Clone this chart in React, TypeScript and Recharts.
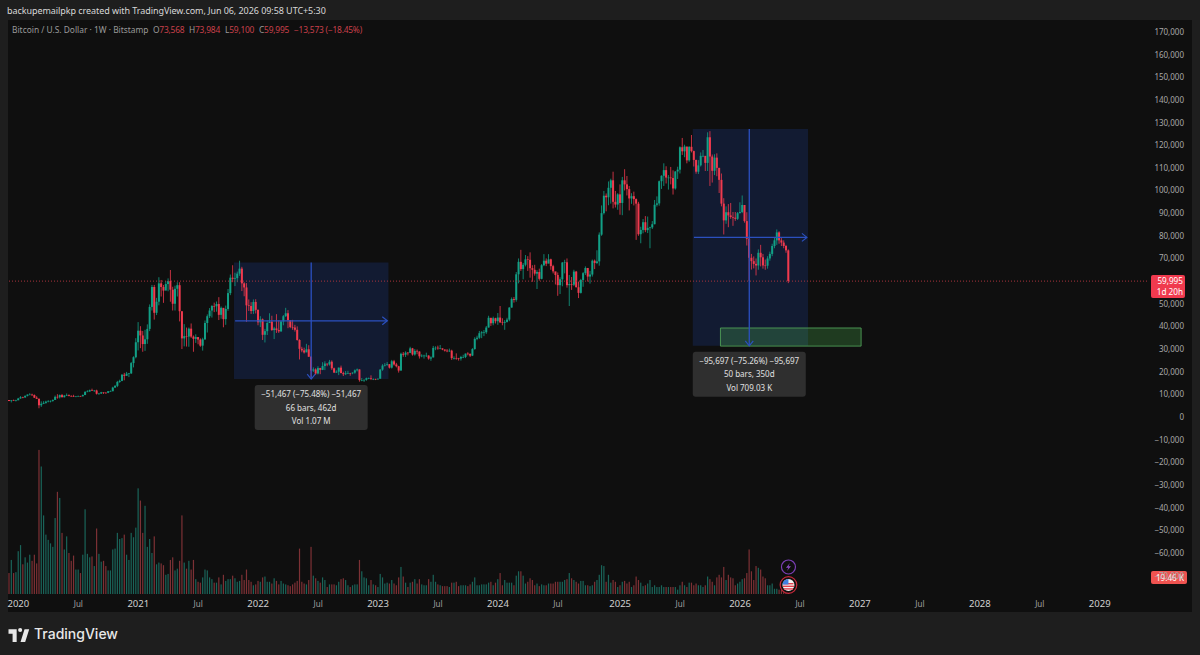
import React from 'react';
import { ComposedChart, Bar, XAxis, YAxis, ReferenceArea, ReferenceLine, ReferenceDot } from 'recharts';

// weekly bars, one line per 10 weeks. first bar is the week of 2019-12-09
const opens = [
  7510, 7060, 7330, 7250,
  7350, 8180, 8700, 8610, 9330, 9900, 9900, 9680, 8530, 8040,
  5180, 5820, 6240, 6770, 6860, 7120, 7540, 8900, 8720, 9680,
  8720, 9450, 9670, 9320, 9300, 9000, 9060, 9240, 9160, 9700,
  11050, 11270, 11840, 11650, 11710, 10250, 10350, 10920, 10730, 10670,
  11370, 11370, 13000, 13750, 15480, 15950, 18650, 18200, 19150, 19250,
  23800, 26400,
  33000, 38100, 36000, 32200, 34300, 38900, 48600, 57400, 46000, 50900,
  59000, 57400, 55800, 58700, 60000, 56200, 50000, 56600, 58200, 46700,
  34700, 35700, 35500, 39000, 35500, 34500, 35300, 34200, 31500, 34300,
  41500, 44500, 47000, 49000, 48900, 49900, 45100, 48200, 43200, 47700,
  54700, 61500, 61000, 61300, 63300, 65500, 59000, 57200, 49300, 49000,
  46800, 50800,
  47300, 41800, 43100, 36300, 37900, 41500, 42100, 38400, 39100, 38400,
  37800, 42200, 44500, 45800, 42800, 39700, 39500, 38500, 34000, 30100,
  29400, 28500, 29900, 26600, 20500, 21000, 19200, 21600, 20800, 22500,
  23600, 23200, 24400, 21500, 19600, 20000, 21800, 19400, 18900, 19300,
  19400, 19300, 19600, 20600, 21000, 16300, 16300, 16400, 17100, 17100,
  16800, 16800,
  16600, 16900, 20900, 22700, 23000, 23300, 21800, 24600, 23200, 22400,
  20500, 27900, 27500, 28400, 28300, 30300, 27600, 29200, 28900, 26800,
  27100, 27100, 27100, 25800, 26300, 30500, 30600, 30300, 30300, 29800,
  29300, 29000, 29300, 26000, 26000, 25900, 25800, 26500, 26500, 28000,
  27900, 27100, 30000, 34500, 35000, 37000, 37400, 37400, 39500, 43800,
  41400, 43600,
  42300, 43900, 41800, 41600, 42000, 43000, 48300, 52100, 51700, 63000,
  68500, 65300, 67200, 69600, 69400, 65700, 65000, 63300, 64000, 61000,
  67000, 69000, 67700, 69600, 66600, 64300, 62700, 58200, 60800, 68200,
  68300, 58200, 58700, 58400, 64200, 57300, 54800, 60500, 63500, 65800,
  62000, 62900, 69000, 68000, 68700, 80500, 90000, 97700, 97000, 101200,
  104500, 95000, 93800,
  98300, 94500, 104500, 102700, 100600, 96500, 97500, 96200, 94200, 80700,
  82600, 86000, 82500, 83500, 83700, 85100, 93700, 94300, 104100, 106500,
  109000, 105700, 105700, 105500, 100900, 108400, 109200, 119100, 117300, 119400,
  113300, 119300, 117400, 113500, 108300, 111100, 115300, 115300, 112200, 123500,
  115000, 108700, 114500, 110000, 104700, 94200, 86800, 90400, 89000, 88300,
  88000, 87500,
  90000, 90500, 93600, 86500, 78700, 70300, 68800, 67600, 66900, 72500,
  70500, 66900, 66800, 70000, 72000, 75500, 78000, 81500, 78000, 77000,
  75500, 73568,
];

const highs = [
  7440, 7500, 7680, 7620,
  8450, 9190, 8950, 9550, 9950, 10500, 10290, 9960, 9180, 8170,
  6900, 6990, 7190, 7470, 7290, 7730, 9480, 10070, 9950, 10170,
  9740, 10380, 10000, 9580, 9800, 9300, 9470, 9350, 9950, 11450,
  11800, 12100, 12500, 11800, 12050, 10650, 11100, 10900, 10950, 11500,
  11700, 13350, 14100, 15950, 16480, 18950, 19480, 19900, 19420, 24300,
  26800, 34800,
  41900, 40100, 38000, 38500, 40900, 49700, 58300, 58300, 52600, 61700,
  60500, 58300, 60000, 61200, 64900, 57500, 58000, 59500, 59500, 46600,
  41000, 39500, 39500, 41300, 36000, 36500, 35100, 34700, 35000, 42600,
  45300, 48100, 49400, 50500, 51000, 52900, 48800, 45000, 49200, 56500,
  62900, 67000, 63700, 64200, 69000, 66300, 59500, 59100, 51900, 50700,
  51900, 52000,
  47500, 44500, 43500, 38900, 42600, 45800, 44700, 39800, 45400, 42600,
  42400, 45000, 48200, 47200, 42400, 42900, 40700, 40000, 34300, 31000,
  30600, 32300, 31700, 26900, 21900, 21500, 22400, 21700, 24200, 24600,
  23500, 25200, 25000, 21800, 20600, 21800, 22700, 20000, 20300, 20400,
  19500, 19700, 21000, 21400, 21000, 17200, 16700, 17400, 17400, 18400,
  17000, 16900,
  17000, 21200, 23300, 23800, 24300, 23400, 25200, 25200, 23900, 22600,
  28400, 28700, 29000, 28700, 31000, 30500, 30000, 29800, 29000, 27700,
  27500, 28400, 27300, 26800, 31400, 31200, 31500, 31800, 30300, 29800,
  30000, 30200, 29700, 26800, 28100, 26100, 27000, 27500, 28000, 28600,
  28000, 30400, 35200, 35900, 38000, 37900, 38400, 40200, 44700, 43400,
  44300, 43800,
  45900, 49000, 43600, 42800, 43800, 48500, 52800, 53000, 64000, 70000,
  73800, 68000, 71500, 71000, 72700, 67000, 67200, 64800, 65500, 67500,
  71900, 70000, 71900, 69900, 67200, 63300, 63800, 61700, 68400, 69400,
  70000, 62700, 61800, 65000, 64500, 59800, 61000, 64000, 66500, 65600,
  64500, 69500, 69500, 73600, 81500, 93400, 99800, 98700, 104000, 105200,
  108300, 99800, 98800,
  102700, 106000, 109400, 106400, 102000, 98800, 99500, 96500, 95000, 84000,
  87400, 88700, 88500, 84000, 86500, 95800, 97400, 104400, 106700, 112000,
  110700, 106800, 110400, 108900, 108500, 110500, 119500, 123200, 120200, 119300,
  119500, 124500, 117600, 113600, 113400, 116800, 117900, 113600, 125700, 126200,
  115900, 116000, 116400, 110000, 107500, 96600, 93000, 94000, 94500, 90500,
  90500, 90500,
  94800, 97800, 93200, 90400, 79500, 72000, 70900, 70000, 74000, 76000,
  72000, 69500, 71000, 73000, 76500, 79500, 82800, 82000, 79000, 78000,
  76000, 73984,
];

const lows = [
  7000, 6430, 7120, 6850,
  7680, 8080, 8260, 8550, 9100, 9700, 9300, 8420, 8000, 3850,
  4450, 5700, 5850, 6500, 6450, 6750, 7600, 8100, 8200, 8700,
  8640, 9260, 9100, 8900, 8850, 8900, 9050, 9000, 9020, 9650,
  10950, 11100, 11520, 11100, 9900, 9880, 10200, 10150, 10350, 10530,
  11200, 11400, 12800, 13200, 15100, 15800, 16200, 18100, 17600, 19000,
  21900, 25900,
  29400, 30400, 28800, 29200, 32300, 37900, 47000, 43000, 45000, 49300,
  53200, 50400, 56900, 55500, 50900, 47000, 47000, 53200, 42200, 30000,
  31200, 31100, 31000, 34900, 28800, 32700, 32100, 31000, 29300, 34000,
  37300, 43700, 43900, 46300, 46500, 42800, 43400, 39600, 40700, 46900,
  53800, 59500, 57800, 59500, 62300, 55600, 53300, 42000, 46800, 45500,
  45500, 45700,
  40500, 39700, 34000, 32900, 36200, 41700, 38000, 34400, 37100, 37100,
  37600, 40500, 44200, 39200, 39200, 38500, 37700, 33700, 25400, 28600,
  28000, 29300, 26600, 17600, 19900, 18600, 18800, 18900, 20700, 20700,
  22400, 22700, 20800, 19500, 19500, 18500, 19300, 18100, 18500, 19000,
  18200, 18900, 19100, 20100, 15600, 15800, 15500, 16000, 16700, 16300,
  16300, 16300,
  16500, 17000, 20400, 22300, 22600, 21400, 21400, 22700, 21900, 19600,
  20500, 26600, 26500, 27200, 28200, 27100, 27100, 27700, 25800, 26400,
  25800, 26500, 25300, 24800, 26300, 29500, 29700, 29900, 29500, 28900,
  28600, 28700, 25200, 25400, 25300, 24900, 24900, 26000, 26000, 27200,
  26500, 26900, 29700, 33900, 34500, 34800, 35700, 36700, 39500, 40200,
  40500, 41300,
  40700, 41500, 40500, 38500, 41700, 42300, 48300, 50500, 50900, 59000,
  64500, 60800, 66500, 64500, 61500, 59700, 62400, 56500, 60200, 60800,
  66600, 66600, 68500, 65000, 63400, 58500, 53500, 54300, 57700, 63400,
  57100, 49000, 56100, 57800, 57200, 52500, 54500, 57500, 62700, 59800,
  58900, 62000, 65300, 67500, 66800, 80000, 89400, 90800, 93500, 94200,
  92100, 92500, 91500,
  89300, 89100, 100000, 97800, 91200, 94100, 93400, 78200, 80000, 76700,
  81100, 81600, 81200, 74500, 83000, 85100, 92900, 93300, 100700, 102000,
  103100, 100400, 102700, 98200, 100400, 105100, 107500, 115700, 114700, 112000,
  112700, 116800, 110600, 107400, 107300, 110600, 114700, 108600, 108600, 102000,
  103500, 106800, 106300, 98900, 93000, 80600, 85300, 83800, 87500, 84400,
  86600, 87000,
  89900, 90000, 85800, 75700, 60100, 65100, 65600, 62500, 65000, 66500,
  65500, 65000, 65500, 69000, 71000, 74500, 76000, 76500, 75500, 74500,
  72500, 59100,
];

const closes = [
  7060, 7330, 7250, 7350,
  8180, 8700, 8610, 9330, 9900, 9900, 9680, 8530, 8040, 5180,
  5820, 6240, 6770, 6860, 7120, 7540, 8900, 8720, 9680, 8720,
  9450, 9670, 9320, 9300, 9000, 9060, 9240, 9160, 9700, 11050,
  11270, 11840, 11650, 11710, 10250, 10350, 10920, 10730, 10670, 11370,
  11370, 13000, 13750, 15480, 15950, 18650, 18200, 19150, 19250, 23800,
  26400, 33000,
  38100, 36000, 32200, 34300, 38900, 48600, 57400, 46000, 50900, 59000,
  57400, 55800, 58700, 60000, 56200, 50000, 56600, 58200, 46700, 34700,
  35700, 35500, 39000, 35500, 34500, 35300, 34200, 31500, 34300, 41500,
  44500, 47000, 49000, 48900, 49900, 45100, 48200, 43200, 47700, 54700,
  61500, 61000, 61300, 63300, 65500, 59000, 57200, 49300, 49000, 46800,
  50800, 47300,
  41800, 43100, 36300, 37900, 41500, 42100, 38400, 39100, 38400, 37800,
  42200, 44500, 45800, 42800, 39700, 39500, 38500, 34000, 30100, 29400,
  28500, 29900, 26600, 20500, 21000, 19200, 21600, 20800, 22500, 23600,
  23200, 24400, 21500, 19600, 20000, 21800, 19400, 18900, 19300, 19400,
  19300, 19600, 20600, 21000, 16300, 16300, 16400, 17100, 17100, 16800,
  16800, 16600,
  16900, 20900, 22700, 23000, 23300, 21800, 24600, 23200, 22400, 20500,
  27900, 27500, 28400, 28300, 30300, 27600, 29200, 28900, 26800, 27100,
  27100, 27100, 25800, 26300, 30500, 30600, 30300, 30300, 29800, 29300,
  29000, 29300, 26000, 26000, 25900, 25800, 26500, 26500, 28000, 27900,
  27100, 30000, 34500, 35000, 37000, 37400, 37400, 39500, 43800, 41400,
  43600, 42300,
  43900, 41800, 41600, 42000, 43000, 48300, 52100, 51700, 63000, 68500,
  65300, 67200, 69600, 69400, 65700, 65000, 63300, 64000, 61000, 67000,
  69000, 67700, 69600, 66600, 64300, 62700, 58200, 60800, 68200, 68300,
  58200, 58700, 58400, 64200, 57300, 54800, 60500, 63500, 65800, 62000,
  62900, 69000, 68000, 68700, 80500, 90000, 97700, 97000, 101200, 104500,
  95000, 93800, 98300,
  94500, 104500, 102700, 100600, 96500, 97500, 96200, 94200, 80700, 82600,
  86000, 82500, 83500, 83700, 85100, 93700, 94300, 104100, 106500, 109000,
  105700, 105700, 105500, 100900, 108400, 109200, 119100, 117300, 119400, 113300,
  119300, 117400, 113500, 108300, 111100, 115300, 115300, 112200, 123500, 115000,
  108700, 114500, 110000, 104700, 94200, 86800, 90400, 89000, 88300, 88000,
  87500, 90000,
  90500, 93600, 86500, 78700, 70300, 68800, 67600, 66900, 72500, 70500,
  66900, 66800, 70000, 72000, 75500, 78000, 81500, 78000, 77000, 75500,
  73568, 59995,
];

// thousands of BTC
const volumes = [
  24, 39, 24, 25, 49, 56, 34, 42, 36, 45, 38, 45, 35, 165,
  146, 90, 68, 62, 58, 54, 87, 117, 110, 70,
  51, 66, 47, 38, 44, 28, 28, 24, 45, 97,
  46, 42, 43, 32, 75, 46, 37, 38, 32, 27,
  27, 51, 52, 70, 63, 64, 68, 45, 39, 70,
  65, 76, 121, 107, 70, 101, 54, 63, 47, 66,
  34, 36, 35, 33, 22, 23, 39, 42, 27, 29,
  38, 90, 36, 29, 38, 28, 39, 17, 14, 13,
  19, 28, 27, 19, 17, 13, 13, 19, 11, 22,
  15, 17, 17, 21, 18, 14, 15, 22, 16, 28,
  16, 14, 10, 11, 15, 14, 19, 20, 14, 14,
  12, 18, 15, 11, 15, 12, 11, 10, 9, 11,
  13, 15, 52, 14, 12, 11, 16, 54, 21, 18,
  15, 13, 19, 16, 8, 11, 11, 11, 10, 14,
  17, 18, 16, 10, 8, 10, 11, 11, 39, 26,
  19, 18, 10, 16, 11, 10, 8, 23, 19, 12,
  13, 12, 16, 12, 10, 19,
  31, 20, 13, 8, 13, 14, 17, 12, 17, 11,
  10, 10, 17, 14, 22, 14, 11, 10, 9, 9,
  9, 8, 13, 13, 14, 9, 10, 10, 10, 9,
  11, 14, 19, 10, 10, 11, 11, 11, 13, 14,
  10, 13, 17, 24, 10, 16, 13, 13, 13, 10,
  21, 26, 26, 21, 12, 14, 18, 16, 10, 12,
  9, 11, 10, 10, 12, 12, 12, 14, 14, 14,
  14, 16, 17, 24, 18, 16, 14, 12, 15, 15,
  10, 10, 9, 10, 14, 16, 22, 33, 32, 14,
  22, 13, 16, 14, 8, 10, 14, 15, 12, 14,
  8, 10, 20, 16, 13, 9, 10, 12, 16, 8,
  10, 8, 8, 10, 8, 8, 8, 8, 8, 8,
  5, 10, 14, 10, 8, 13, 13, 10, 12, 10,
  10, 8, 10, 20, 17, 14, 10, 19, 22, 19,
  31, 16, 22, 19, 18, 10, 12, 14, 17, 18,
  24, 51, 26, 16, 32, 30, 28, 20, 18, 10,
  10, 12, 6, 6, 5, 5, 6, 5, 19.46,
];

// 60,000 sits under the last price tag in the picture, so it is left out
const priceTicks = [170000, 160000, 150000, 140000, 130000, 120000, 110000, 100000, 90000, 80000, 70000, 50000, 40000, 30000, 20000, 10000, 0, -10000, -20000, -30000, -40000, -50000, -60000, -70000];

// week number -> label on the time axis
const timeTickWeeks = [4, 30, 56, 82, 108, 134, 160, 186, 212, 238, 265, 291, 317, 343, 369, 395, 421, 447, 473];
const timeTickLabels = ['2020', 'Jul', '2021', 'Jul', '2022', 'Jul', '2023', 'Jul', '2024', 'Jul', '2025', 'Jul', '2026', 'Jul', '2027', 'Jul', '2028', 'Jul', '2029'];

const WEEKS_ON_AXIS = 494; // bars plus the empty space on the right

const rows = Array.from({ length: WEEKS_ON_AXIS }, (_, i) => ({
  week: i,
  open: opens[i],
  high: highs[i],
  low: lows[i],
  close: closes[i],
  volume: volumes[i],
}));

const UP = '#12a086';
const DOWN = '#f03a4e';
const MEASURE = '#2b50bf';
const FONT = '"Noto Sans", sans-serif';

const Candle = (props: any) => {
  const { x, y, width, height, payload } = props;
  if (payload.high == null || !height) return null;
  const toY = (p: number) => y + ((payload.high - p) / (payload.high - payload.low)) * height;
  const color = payload.close >= payload.open ? UP : DOWN;
  const mid = x + width / 2;
  const top = toY(Math.max(payload.open, payload.close));
  const bottom = toY(Math.min(payload.open, payload.close));
  return (
    <g>
      <line x1={mid} x2={mid} y1={y} y2={y + height} stroke={color} strokeWidth={0.8} />
      <rect x={mid - 1} y={top} width={2} height={Math.max(bottom - top, 0.6)} fill={color} />
    </g>
  );
};

const VolumeBar = (props: any) => {
  const { x, y, width, height, payload } = props;
  if (payload.volume == null) return null;
  const color = payload.close >= payload.open ? '#1a6459' : '#7d3135';
  return <rect x={x + width / 2 - 0.6} y={y} width={1.2} height={height} fill={color} />;
};

const PriceTick = (props: any) => {
  const { y, payload } = props;
  const v = payload.value;
  const text = v < 0 ? '\u2212' + Math.abs(v).toLocaleString('en-US') : v.toLocaleString('en-US');
  return (
    <text x={1184} y={y + 3} textAnchor="end" fontSize={8} fontFamily={FONT} fill="#a8a8a8">
      {text}
    </text>
  );
};

const TimeTick = (props: any) => {
  const { x, y, payload } = props;
  const label = timeTickLabels[timeTickWeeks.indexOf(payload.value)];
  const isYear = label !== 'Jul';
  return (
    <text x={x} y={y + 4.5} textAnchor="middle" fontSize={isYear ? 9.5 : 8} fontFamily={FONT} fill={isYear ? '#cfcfcf' : '#a0a0a0'}>
      {label}
    </text>
  );
};

const MeasureCard = ({ cx, cy, lines }: any) => (
  <g>
    <rect x={cx - 56.5} y={cy + 6} width={113} height={45} rx={3} fill="#2f2f2f" />
    {lines.map((t: string, i: number) => (
      <text key={i} x={cx} y={cy + 18 + i * 13.5} textAnchor="middle" fontSize={8} fontFamily={FONT} fill="#e0e0e0">
        {t}
      </text>
    ))}
  </g>
);

const ArrowRight = ({ cx, cy }: any) => (
  <path d={`M${cx - 5} ${cy - 4}L${cx} ${cy}L${cx - 5} ${cy + 4}`} fill="none" stroke={MEASURE} strokeWidth={1.2} />
);

const ArrowDown = ({ cx, cy }: any) => (
  <path d={`M${cx - 4} ${cy - 5}L${cx} ${cy}L${cx + 4} ${cy - 5}`} fill="none" stroke={MEASURE} strokeWidth={1.2} />
);

const PriceTag = ({ cy }: any) => (
  <g>
    <rect x={1151} y={cy - 6} width={34} height={23} rx={2} fill={DOWN} />
    <text x={1183} y={cy + 3} textAnchor="end" fontSize={8.2} fontFamily={FONT} fill="#fff">59,995</text>
    <text x={1183} y={cy + 13.5} textAnchor="end" fontSize={8.2} fontFamily={FONT} fill="#fff">1d 20h</text>
  </g>
);

const VolumeTag = ({ cy }: any) => (
  <g>
    <rect x={1151} y={cy - 6} width={36} height={13} rx={2} fill="#ef5350" />
    <text x={1184} y={cy + 3.5} textAnchor="end" fontSize={8.2} fontFamily={FONT} fill="#fff">19.46 K</text>
  </g>
);

const BoltIcon = ({ cx, cy }: any) => (
  <g>
    <circle cx={cx} cy={cy} r={7} fill="#0f0f0f" stroke="#7b3fb5" strokeWidth={1.2} />
    <path d={`M${cx + 1.5} ${cy - 4}L${cx - 2.5} ${cy + 0.8}H${cx}L${cx - 1.5} ${cy + 4}L${cx + 2.5} ${cy - 0.8}H${cx}Z`} fill="#8d4cc9" />
  </g>
);

const FlagIcon = ({ cx, cy }: any) => (
  <g>
    <circle cx={cx} cy={cy} r={8.3} fill="#0f0f0f" stroke="#c8283a" strokeWidth={1.2} />
    <circle cx={cx} cy={cy} r={6} fill="#f4f4f4" />
    <rect x={cx - 5} y={cy - 2} width={10} height={1.4} fill="#e0414f" />
    <rect x={cx - 5.6} y={cy + 0.6} width={11.2} height={1.4} fill="#e0414f" />
    <rect x={cx - 4.6} y={cy + 3.2} width={9.2} height={1.4} fill="#e0414f" />
    <path d={`M${cx - 6} ${cy - 0.5}A6 6 0 0 1 ${cx} ${cy - 6}V${cy - 0.5}Z`} fill="#3f7fe0" />
  </g>
);

const legendItems = [
  { left: 153, key: 'O', value: '73,568' },
  { left: 189, key: 'H', value: '73,984' },
  { left: 225, key: 'L', value: '59,100' },
  { left: 259, key: 'C', value: '59,995' },
];

export default function App() {
  const top1 = 68200;
  const bottom1 = 16733;
  const mid1 = 42466;
  const top2 = 127150;
  const bottom2 = 31453;
  const mid2 = 79301;

  return (
    <div style={{ position: 'absolute', left: 0, top: 0, width: 1200, height: 655, background: '#1e1e1e', overflow: 'hidden', fontFamily: FONT }}>
      <div style={{ position: 'absolute', left: 8, top: 20, width: 1184, height: 592, background: '#0f0f0f' }} />
      <div style={{ position: 'absolute', left: 7, top: 5, fontSize: 9, letterSpacing: -0.06, lineHeight: '12px', color: '#d8d8d8', whiteSpace: 'nowrap' }}>
        backupemailpkp created with TradingView.com, Jun 06, 2026 09:58 UTC+5:30
      </div>
      <div style={{ position: 'absolute', left: 12, top: 24, fontSize: 8.4, lineHeight: '12px', color: '#9a9a9a', whiteSpace: 'nowrap' }}>
        Bitcoin / U.S. Dollar · 1W · Bitstamp
      </div>
      {legendItems.map((item) => (
        <div key={item.key} style={{ position: 'absolute', left: item.left, top: 24, fontSize: 8.4, letterSpacing: -0.2, lineHeight: '12px', color: '#9a9a9a', whiteSpace: 'nowrap' }}>
          {item.key}<span style={{ color: '#c9404b' }}>{item.value}</span>
        </div>
      ))}
      <div style={{ position: 'absolute', left: 294, top: 24, fontSize: 8.4, letterSpacing: -0.2, lineHeight: '12px', color: '#c9404b', whiteSpace: 'nowrap' }}>
        {'\u221213,573 (\u221218.45%)'}
      </div>

      <div style={{ position: 'absolute', left: 0, top: 0 }}>
        <ComposedChart
          width={1200}
          height={655}
          data={rows}
          margin={{ top: 22, right: 8, bottom: 43, left: 8 }}
          barCategoryGap={0}
        >
          <XAxis
            xAxisId="price"
            dataKey="week"
            type="category"
            ticks={timeTickWeeks}
            interval={0}
            height={18}
            axisLine={false}
            tickLine={false}
            tick={<TimeTick />}
          />
          <XAxis xAxisId="vol" dataKey="week" type="category" hide />
          <YAxis
            yAxisId="price"
            orientation="right"
            width={45}
            domain={[-78146, 174393]}
            allowDataOverflow
            ticks={priceTicks}
            interval={0}
            axisLine={false}
            tickLine={false}
            tick={<PriceTick />}
          />
          <YAxis yAxisId="vol" hide domain={[0, 655]} allowDataOverflow />

          <ReferenceArea xAxisId="price" yAxisId="price" x1={98} x2={164} y1={bottom1} y2={top1} fill="#2962ff" fillOpacity={0.15} stroke="none" />
          <ReferenceArea xAxisId="price" yAxisId="price" x1={297} x2={346} y1={bottom2} y2={top2} fill="#2962ff" fillOpacity={0.15} stroke="none" />
          <ReferenceArea xAxisId="price" yAxisId="price" x1={309} x2={369} y1={31300} y2={39300} fill="#4caf50" fillOpacity={0.28} stroke="#4f9d57" strokeOpacity={0.9} />

          <ReferenceLine xAxisId="price" yAxisId="price" segment={[{ x: 131, y: top1 }, { x: 131, y: bottom1 }]} stroke={MEASURE} strokeWidth={1.3} />
          <ReferenceLine xAxisId="price" yAxisId="price" segment={[{ x: 98, y: mid1 }, { x: 164, y: mid1 }]} stroke={MEASURE} strokeWidth={1.3} />
          <ReferenceLine xAxisId="price" yAxisId="price" segment={[{ x: 321, y: top2 }, { x: 321, y: bottom2 }]} stroke={MEASURE} strokeWidth={1.3} />
          <ReferenceLine xAxisId="price" yAxisId="price" segment={[{ x: 297, y: mid2 }, { x: 346, y: mid2 }]} stroke={MEASURE} strokeWidth={1.3} />
          <ReferenceLine xAxisId="price" yAxisId="price" y={59995} stroke="#a8343d" strokeDasharray="1 2" />

          <Bar xAxisId="vol" yAxisId="vol" dataKey="volume" shape={<VolumeBar />} isAnimationActive={false} />
          <Bar xAxisId="price" yAxisId="price" dataKey={(d: any) => (d.high == null ? null : [d.low, d.high])} shape={<Candle />} isAnimationActive={false} />

          <ReferenceDot xAxisId="price" yAxisId="price" x={164} y={mid1} ifOverflow="visible" shape={<ArrowRight />} />
          <ReferenceDot xAxisId="price" yAxisId="price" x={131} y={bottom1} ifOverflow="visible" shape={<ArrowDown />} />
          <ReferenceDot xAxisId="price" yAxisId="price" x={346} y={mid2} ifOverflow="visible" shape={<ArrowRight />} />
          <ReferenceDot xAxisId="price" yAxisId="price" x={321} y={bottom2} ifOverflow="visible" shape={<ArrowDown />} />
          <ReferenceDot xAxisId="price" yAxisId="price" x={131} y={bottom1} ifOverflow="visible" shape={<MeasureCard lines={['\u221251,467 (\u221275.48%) \u221251,467', '66 bars, 462d', 'Vol 1.07 M']} />} />
          <ReferenceDot xAxisId="price" yAxisId="price" x={321} y={bottom2} ifOverflow="visible" shape={<MeasureCard lines={['\u221295,697 (\u221275.26%) \u221295,697', '50 bars, 350d', 'Vol 709.03 K']} />} />

          <ReferenceDot xAxisId="price" yAxisId="price" x={338} y={-66225} ifOverflow="visible" shape={<BoltIcon />} />
          <ReferenceDot xAxisId="price" yAxisId="price" x={338} y={-74172} ifOverflow="visible" shape={<FlagIcon />} />
          <ReferenceDot xAxisId="price" yAxisId="price" x={338} y={59995} ifOverflow="visible" shape={<PriceTag />} />
          <ReferenceDot xAxisId="vol" yAxisId="vol" x={338} y={19.46} ifOverflow="visible" shape={<VolumeTag />} />
        </ComposedChart>
      </div>

      <svg style={{ position: 'absolute', left: 8, top: 628 }} width={22} height={14} viewBox="0 0 36 24">
        <path d="M14 6H0v6h7v12h7V6zM28 24h-8l7.5-18h8L28 24z" fill="#e8e8e8" transform="translate(0 -6) scale(1 1.33)" />
        <circle cx={20} cy={3.5} r={3.5} fill="#e8e8e8" />
      </svg>
      <div style={{ position: 'absolute', left: 34, top: 624, fontSize: 14, lineHeight: '20px', fontWeight: 500, fontFamily: 'Inter, sans-serif', color: '#e8e8e8' }}>
        TradingView
      </div>
    </div>
  );
}
